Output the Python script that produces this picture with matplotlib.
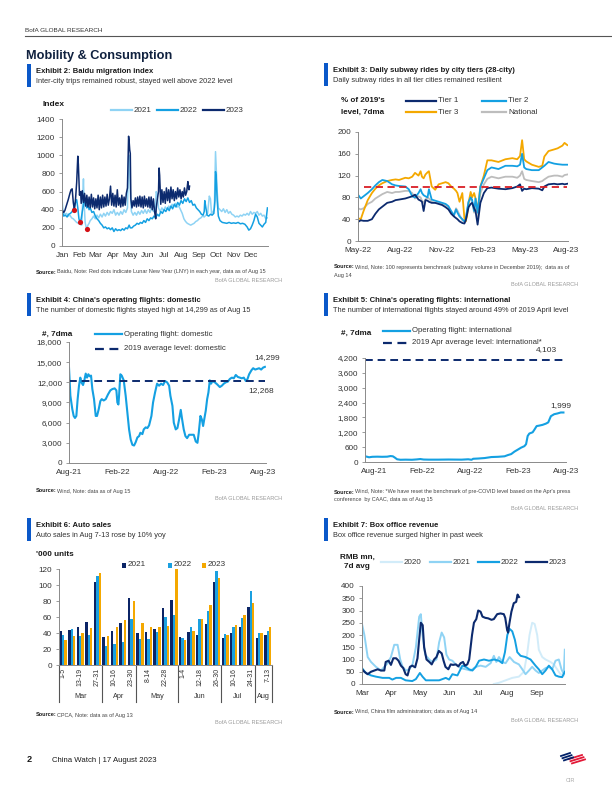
import matplotlib
matplotlib.use("Agg")
import matplotlib.pyplot as plt
from matplotlib.lines import Line2D
from matplotlib.patches import Rectangle
import matplotlib.transforms as mtrans

plt.rcParams['font.family'] = ['Liberation Sans', 'DejaVu Sans']
NARROW = ['Liberation Sans', 'DejaVu Sans']

NAVY = '#0c2a6e'
MID = '#14a0e2'
LIGHT = '#8fd3f4'
PALE = '#d2ecf9'
ORANGE = '#f4a800'
GREY = '#bdbdbd'
RED = '#d91f26'
TXT = '#333333'

# ---------------- Exhibit 2: Baidu migration index, (day of year, index) ----------------
mig_2023 = [(0, 400), (3, 370), (5, 390), (8, 450), (11, 510), (14, 580), (16, 620), (18, 630), (20, 480),
            (22, 400), (24, 520), (26, 700), (28, 990), (29, 900), (31, 560), (33, 600), (34, 470), (36, 610),
            (38, 480), (40, 580), (42, 440), (44, 560), (46, 430), (48, 540), (50, 420), (52, 570), (54, 430),
            (56, 530), (58, 410), (60, 520), (62, 420), (64, 560), (66, 400), (68, 540), (70, 420), (72, 560),
            (74, 430), (76, 540), (78, 440), (80, 570), (82, 450), (84, 520), (86, 660), (88, 450), (90, 580),
            (92, 440), (94, 560), (96, 430), (98, 620), (100, 450), (102, 530), (104, 430), (106, 560),
            (108, 440), (110, 540), (112, 450), (114, 580), (116, 640), (118, 1210), (119, 1150), (120, 1060),
            (121, 1020), (122, 520), (124, 420), (126, 500), (128, 440), (130, 530), (132, 430), (134, 540),
            (136, 440), (138, 550), (140, 430), (142, 540), (144, 420), (146, 550), (148, 440), (150, 520),
            (152, 430), (154, 540), (156, 420), (158, 540), (160, 400), (162, 520), (164, 380), (166, 300),
            (167, 420), (169, 520), (171, 600), (172, 860), (173, 780), (175, 460), (177, 620), (179, 480),
            (181, 600), (183, 470), (185, 640), (187, 500), (189, 620), (191, 480), (193, 650), (195, 520),
            (197, 620), (199, 500), (201, 600), (203, 520), (205, 640), (207, 540), (209, 620), (211, 520),
            (213, 600), (215, 540), (217, 640), (219, 560), (221, 600), (223, 710), (224, 650), (225, 620),
            (226, 660)]
mig_2022 = [(0, 390), (3, 330), (6, 340), (9, 320), (12, 350), (15, 360), (18, 380), (21, 420), (24, 480),
            (26, 510), (28, 420), (30, 300), (32, 260), (34, 300), (36, 380), (38, 450), (40, 500), (42, 470),
            (44, 420), (46, 460), (48, 400), (50, 420), (53, 370), (56, 380), (59, 330), (62, 300), (65, 280),
            (68, 250), (71, 230), (74, 200), (77, 210), (80, 190), (83, 200), (86, 180), (89, 200), (92, 160),
            (95, 190), (98, 170), (101, 180), (104, 170), (107, 190), (110, 175), (113, 200), (116, 190),
            (119, 230), (121, 200), (124, 200), (127, 220), (130, 230), (133, 250), (136, 240), (139, 260),
            (142, 250), (145, 280), (148, 260), (151, 300), (154, 280), (157, 310), (160, 300), (163, 330),
            (166, 310), (169, 350), (172, 330), (175, 380), (178, 360), (181, 400), (184, 380), (187, 420),
            (190, 390), (193, 440), (196, 410), (199, 460), (202, 430), (205, 480), (208, 450), (211, 500),
            (214, 470), (217, 520), (220, 490), (223, 530), (226, 480), (229, 500), (232, 450), (235, 460),
            (238, 420), (241, 400), (244, 380), (247, 350), (250, 340), (252, 380), (253, 500), (255, 420),
            (257, 340), (260, 330), (263, 350), (266, 340), (269, 360), (271, 500), (272, 820), (273, 780),
            (275, 500), (277, 330), (280, 280), (284, 260), (288, 255), (292, 250), (296, 260), (300, 250),
            (304, 255), (308, 250), (312, 260), (316, 245), (320, 250), (324, 240), (328, 210), (331, 175),
            (334, 190), (337, 230), (340, 280), (343, 350), (346, 320), (349, 250), (352, 230), (355, 210),
            (358, 240), (361, 260), (364, 420)]
mig_2021 = [(0, 520), (2, 380), (5, 350), (8, 360), (11, 330), (14, 340), (17, 310), (20, 300), (23, 280),
            (26, 260), (29, 250), (32, 240), (35, 230), (38, 740), (39, 500), (41, 260), (43, 200), (44, 190),
            (46, 230), (48, 250), (50, 280), (53, 300), (56, 330), (59, 300), (62, 340), (65, 310), (68, 350),
            (71, 320), (74, 360), (77, 330), (80, 370), (83, 340), (86, 380), (89, 360), (92, 400), (95, 340),
            (98, 370), (101, 340), (104, 380), (107, 350), (110, 400), (113, 370), (116, 420), (118, 990),
            (119, 1000), (121, 600), (123, 380), (126, 340), (129, 370), (132, 340), (135, 380), (138, 350),
            (141, 390), (144, 360), (147, 400), (150, 360), (153, 400), (156, 370), (159, 420), (162, 380),
            (165, 400), (167, 600), (169, 560), (171, 420), (174, 380), (177, 420), (180, 390), (183, 430),
            (186, 400), (189, 440), (192, 420), (195, 460), (198, 430), (201, 470), (204, 430), (207, 440),
            (210, 400), (213, 360), (216, 300), (219, 270), (222, 250), (225, 240), (228, 230), (231, 240),
            (234, 250), (237, 270), (240, 280), (243, 300), (246, 310), (249, 330), (252, 320), (255, 340),
            (258, 360), (261, 550), (263, 520), (265, 360), (268, 380), (270, 420), (272, 1040), (273, 900),
            (275, 600), (277, 420), (280, 400), (283, 380), (286, 410), (289, 370), (292, 400), (295, 360),
            (298, 380), (301, 350), (304, 340), (307, 320), (310, 330), (313, 320), (316, 340), (319, 330),
            (322, 350), (325, 340), (328, 360), (331, 340), (334, 380), (337, 350), (340, 370), (343, 360),
            (346, 380), (349, 340), (352, 360), (355, 330), (358, 340), (361, 300), (364, 310)]
lny_day = [22, 32, 44]
lny_val = [400, 262, 182]
month_days = [0, 31, 59, 90, 120, 151, 181, 212, 243, 273, 304, 334]
month_names = ['Jan', 'Feb', 'Mar', 'Apr', 'May', 'Jun', 'Jul', 'Aug', 'Sep', 'Oct', 'Nov', 'Dec']

# ---------------- Exhibit 3: subway rides (months since May-22) ----------------
sub_x = [0.0, 0.2, 0.4, 0.7, 1.0, 1.25, 1.5, 1.75, 2.1, 2.45, 2.7, 2.95, 3.4, 3.65, 3.9, 4.1, 4.35,
         4.5, 4.6, 4.72, 4.85, 5.0, 5.1, 5.3, 5.55, 5.8, 6.05, 6.3, 6.5, 6.7, 6.9, 7.05, 7.15, 7.3,
         7.5, 7.65, 7.75, 7.85, 7.95, 8.1, 8.2, 8.35, 8.45, 8.6, 8.8, 9.05, 9.3, 9.6, 10.1, 10.6, 11.1,
         11.45, 11.65, 11.8, 11.95, 12.1, 12.5, 13.0, 13.25, 13.4, 13.7, 14.1, 14.35, 14.7, 14.85, 15.05]
tier1 = [35, 38, 37, 37, 40, 50, 58, 63, 70, 72, 75, 76, 78, 80, 82, 85, 76, 74, 72, 55, 75, 74, 72,
         70, 70, 68, 66, 62, 58, 50, 45, 42, 40, 36, 33, 32, 38, 50, 62, 68, 70, 60, 55, 30, 70, 88,
         97, 98, 96, 95, 97, 100, 104, 92, 96, 95, 97, 96, 93, 100, 104, 105, 104, 105, 104, 105]
tier2 = [85, 78, 82, 88, 95, 102, 108, 112, 110, 104, 102, 101, 100, 95, 82, 80, 88, 95, 88, 84, 82,
         80, 95, 76, 74, 72, 70, 68, 64, 55, 47, 58, 52, 45, 40, 36, 40, 58, 72, 80, 76, 55, 78, 52,
         100, 115, 130, 135, 132, 138, 138, 137, 140, 160, 135, 132, 130, 130, 135, 138, 145, 142, 141,
         140, 140, 140]
tier3 = [42, 40, 55, 75, 88, 96, 102, 106, 110, 112, 113, 112, 116, 115, 118, 125, 120, 128, 118, 115,
         122, 126, 128, 100, 94, 104, 106, 108, 106, 100, 96, 92, 88, 72, 88, 42, 36, 48, 70, 90, 80,
         88, 78, 55, 100, 120, 148, 148, 145, 150, 152, 150, 156, 185, 150, 146, 140, 136, 138, 155,
         165, 168, 170, 175, 180, 176]
national = [60, 58, 60, 68, 72, 78, 82, 86, 90, 88, 90, 90, 92, 92, 88, 78, 82, 80, 74, 70, 76, 80, 78,
            72, 70, 70, 68, 66, 62, 52, 48, 60, 56, 48, 38, 35, 38, 56, 70, 78, 74, 52, 68, 45, 88, 104,
            114, 118, 115, 118, 118, 116, 120, 128, 114, 112, 110, 108, 110, 113, 118, 120, 120, 118,
            121, 122]
sub_bench = 100
sub_ticks = [0, 3, 6, 9, 12, 15]
sub_labels = ['May-22', 'Aug-22', 'Nov-22', 'Feb-23', 'May-23', 'Aug-23']

# ---------------- Exhibit 4: domestic flights (months since Aug-21) ----------------
dom_x = [0.00, 0.17, 0.41, 0.58, 0.74, 0.91, 1.07, 1.24, 1.40, 1.53, 1.74, 1.90, 2.07, 2.23, 2.40, 2.56,
         2.73, 2.89, 3.10, 3.31, 3.47, 3.68, 3.88, 4.05, 4.30, 4.55, 4.83, 5.12, 5.37, 5.66, 5.87, 5.99,
         6.12, 6.20, 6.36, 6.53, 6.78, 7.02, 7.23, 7.44, 7.64, 7.85, 8.06, 8.26, 8.47, 8.68, 8.84, 9.09,
         9.26, 9.50, 9.71, 9.92, 10.21, 10.41, 10.66, 10.91, 11.16, 11.40, 11.65, 11.90, 12.15, 12.40,
         12.56, 12.81, 12.98, 13.22, 13.43, 13.64, 13.84, 14.01, 14.21, 14.42, 14.63, 14.88, 15.17, 15.45,
         15.70, 15.91, 16.07, 16.28, 16.45, 16.61, 16.78, 16.94, 17.11, 17.27, 17.44, 17.60, 17.77, 18.06,
         18.35, 18.68, 18.93, 19.17, 19.42, 19.67, 19.92, 20.17, 20.41, 20.66, 20.91, 21.16, 21.40, 21.65,
         21.90, 22.11, 22.31, 22.60, 22.81, 23.06, 23.31, 23.55, 23.80, 24.05, 24.26]
dom = [14200, 10000, 8000, 7000, 6700, 7000, 9500, 11500, 12700, 12000, 11600, 12300, 13300, 12700,
       13200, 12900, 13000, 11000, 9500, 7000, 7000, 8000, 9200, 9500, 9300, 9500, 10200, 10800, 11000,
       11100, 10800, 9000, 8700, 10000, 13200, 13000, 12300, 10000, 7500, 5000, 3500, 2700, 2600, 3100,
       3800, 4000, 4500, 4300, 5000, 5300, 5200, 5600, 7000, 9000, 10500, 11800, 11500, 11800, 11600,
       12200, 12000, 11500, 10000, 8500, 6000, 5000, 5200, 6500, 7900, 6500, 5000, 4000, 3700, 4200,
       4200, 4200, 3200, 3000, 4500, 7000, 6500, 5500, 6700, 7800, 9500, 10500, 12300, 11800, 12200,
       12000, 11700, 11300, 11500, 11800, 12000, 12100, 12500, 12700, 12600, 13100, 12800, 12700, 12600,
       12700, 12200, 12500, 13200, 13800, 14100, 13900, 14000, 14100, 13900, 14200, 14299]
dom_bench = 12268

# ---------------- Exhibit 5: international flights ----------------
intl_x = [-1.12, -0.83, -0.62, -0.21, 0.41, 1.03, 1.65, 2.07, 2.36, 2.60, 2.89, 3.31, 3.93, 4.75, 5.37,
          5.79, 6.20, 6.82, 8.06, 9.30, 10.95, 11.78, 12.19, 12.40, 13.02, 13.84, 14.67, 15.50, 16.32,
          16.74, 17.15, 17.56, 17.98, 18.39, 18.80, 19.01, 19.21, 19.42, 19.83, 20.04, 20.33, 20.66,
          21.07, 21.49, 21.78, 22.11, 22.52, 22.93, 23.35, 23.68]
intl = [230, 210, 190, 210, 215, 210, 215, 240, 230, 180, 110, 90, 95, 90, 105, 120, 100, 95, 95, 100,
        95, 110, 90, 130, 140, 160, 200, 210, 230, 280, 320, 420, 500, 580, 640, 720, 1050, 1150, 1200,
        1300, 1450, 1470, 1500, 1550, 1600, 1850, 1930, 1960, 2000, 1999]
intl_bench = 4103
fl_ticks = [0, 6, 12, 18, 24]
fl_labels = ['Aug-21', 'Feb-22', 'Aug-22', 'Feb-23', 'Aug-23']

# ---------------- Exhibit 6: auto sales ----------------
auto_weeks = ['1-5', '6-12', '13-19', '20-26', '27-31', '1-9', '10-16', '17-22', '23-30', '1-7', '8-14',
              '15-21', '22-28', '29-31', '1-4', '5-11', '12-18', '19-25', '26-30', '1-9', '10-16', '17-23',
              '24-31', '1-6', '7-13']
auto_months = ['Mar', 'Apr', 'May', 'Jun', 'Jul', 'Aug']
auto_month_len = [5, 4, 5, 5, 4, 2]
auto_2021 = [42, 44, 48, 54, 104, 35, 42, 53, 84, 40, 41, 45, 71, 81, 35, 41, 38, 51, 104, 34, 40, 47, 73, 34, 37]
auto_2022 = [37, 45, 36, 38, 111, 24, 26, 29, 58, 32, 33, 41, 60, 62, 34, 48, 58, 68, 117, 39, 47, 59, 92, 40, 43]
auto_2023 = [31, 36, 40, 46, 115, 36, 47, 56, 80, 53, 47, 47, 49, 120, 31, 43, 57, 75, 109, 37, 50, 62, 77, 40, 48]

# ---------------- Exhibit 7: box office, (day of year, RMB mn) ----------------
bo_2023 = [(59, 60), (61.5, 50), (65, 40), (68.5, 50), (72, 55), (75.5, 60), (79, 55), (82.5, 55), (84, 90),
           (87, 95), (89.5, 78), (92, 105), (95, 105), (97.5, 95), (100, 75), (102.5, 65), (105, 40),
           (107, 35), (109.5, 70), (112, 75), (115, 68), (117.5, 105), (119, 170), (121, 250), (123, 240),
           (124.5, 150), (127, 100), (130, 90), (132.5, 80), (135, 100), (137.5, 110), (140, 135),
           (143, 125), (145, 95), (147, 70), (150, 60), (152.5, 80), (155, 78), (158, 80), (160.5, 72),
           (163, 85), (165.5, 90), (167.5, 75), (170, 80), (172, 100), (173.5, 150), (175, 200), (177, 250),
           (179.5, 265), (181.5, 300), (184, 295), (186, 275), (189, 270), (192, 268), (195.5, 262),
           (198, 265), (201.5, 285), (205, 288), (208.5, 285), (210, 270), (212, 220), (213, 210),
           (214.5, 250), (216.5, 295), (219, 330), (221.5, 335), (223, 365), (224.5, 355)]
bo_2022 = [(59, 65), (63, 45), (68.5, 35), (73.7, 30), (80.7, 25), (87.7, 25), (91, 18), (95, 25), (100, 25),
           (105, 15), (112, 12), (115.8, 20), (120, 45), (122.8, 30), (126.3, 15), (133.3, 15), (140.3, 15),
           (147.3, 25), (150.8, 18), (154.3, 40), (159.6, 35), (164.8, 75), (168.4, 70), (171.9, 60),
           (175.4, 55), (178.9, 70), (182.4, 95), (187.6, 100), (192.9, 95), (198.1, 100), (203.4, 95),
           (206.9, 85), (209.7, 130), (212.2, 200), (214.6, 225), (217.4, 215), (220.2, 180), (222.7, 130),
           (226.2, 115), (231.4, 110), (236.7, 100), (241.9, 75), (245.4, 60), (249, 40), (252.5, 55),
           (256, 75), (259.5, 60), (263, 35), (266.5, 30), (270, 28), (272.8, 50)]
bo_2021 = [(59, 245), (61.5, 200), (65, 110), (68.5, 90), (73.7, 70), (79, 55), (82.5, 70), (86, 85),
           (89.5, 110), (93, 160), (96.5, 160), (99.3, 100), (101.8, 70), (105.3, 55), (108.8, 60),
           (112.3, 80), (115.8, 150), (119.3, 275), (121, 285), (122.8, 200), (125.6, 120), (129.8, 100),
           (133.3, 90), (137.5, 100), (140.3, 170), (143, 210), (145.6, 190), (148, 120), (150.8, 100),
           (154.3, 95), (157.8, 80), (163, 65), (168.4, 60), (173.6, 55), (178.9, 70), (184, 75),
           (189.4, 70), (194.6, 85), (198, 115), (200.6, 90), (203.4, 110), (206.9, 90), (210.4, 85),
           (214.6, 110), (219.2, 90), (224.4, 80), (228, 60), (231.4, 40), (235, 55), (238.4, 70), (242, 55),
           (245.4, 45), (249, 55), (252.5, 65), (256, 70), (259.5, 60), (263, 95), (266.5, 100), (269.3, 60),
           (271.7, 40), (272.8, 140)]
bo_2020 = [(198, 0), (203.4, 5), (210.4, 15), (217.4, 25), (224.4, 30), (229.7, 50), (233, 120), (235.6, 200),
           (238.4, 250), (241, 245), (243.7, 200), (245.4, 140), (249, 110), (252.5, 100), (257.7, 90),
           (261.2, 80), (264.7, 60), (268.2, 40), (271.7, 35)]
bo_month_days = [59, 90, 120, 151, 181, 212, 243]
bo_month_names = ['Mar', 'Apr', 'May', 'Jun', 'Jul', 'Aug', 'Sep']


def xy(pairs):
    return [p[0] for p in pairs], [p[1] for p in pairs]


# ---------------- page helpers ----------------
W, H = 612, 792
fig = plt.figure(figsize=(W / 100, H / 100), dpi=100)


def add_ax(x0, y0, x1, y1):
    return fig.add_axes([x0 / W, 1 - y1 / H, (x1 - x0) / W, (y1 - y0) / H])


def ftext(x, y, s, size=6, bold=False, color=TXT, ha='left', family=NARROW, **kw):
    fig.text(x / W, 1 - y / H, s, fontsize=size, fontweight='bold' if bold else 'normal',
             color=color, ha=ha, va='center', family=family, **kw)


def fline(x0, x1, y0, y1=None, **kw):
    y1 = y0 if y1 is None else y1
    fig.add_artist(Line2D([x0 / W, x1 / W], [1 - y0 / H, 1 - y1 / H], transform=fig.transFigure, **kw))


def exhibit(x, ytop, title, sub):
    fig.add_artist(Rectangle((x / W, 1 - (ytop + 23) / H), 3.5 / W, 23 / H,
                             transform=fig.transFigure, color='#0a58c9', lw=0))
    ftext(x + 9, ytop + 7.5, title, size=5.5, bold=True, color='#1a1a1a')
    ftext(x + 9, ytop + 17.5, sub, size=5.3, color='#333333')


def source(x, y, s, lines2=None):
    ftext(x, y, 'Source:', size=4.0, bold=True, color='#1a1a1a')
    ftext(x + 21, y, s, size=4.0, color='#444444')
    if lines2:
        ftext(x, y + 8, lines2, size=4.0, color='#444444')


def bofa(xr, y):
    ftext(xr, y, 'BofA GLOBAL RESEARCH', size=4.0, color='#9a9a9a', ha='right')


def legend_line(x0, x1, y, label, color, ls='-', lw=1.6, size=5.8):
    fline(x0, x1, y, color=color, lw=lw, ls=ls)
    ftext(x1 + 2, y, label, size=size, color=TXT)


def style(ax):
    for s in ['top', 'right']:
        ax.spines[s].set_visible(False)
    for s in ['left', 'bottom']:
        ax.spines[s].set_color('#8a8a8a')
        ax.spines[s].set_linewidth(0.7)
    ax.tick_params(axis='y', length=2.5, width=0.6, color='#8a8a8a', labelsize=5.9, labelcolor=TXT, pad=2.5)
    ax.tick_params(axis='x', length=0, labelsize=5.9, labelcolor=TXT, pad=4)


def comma(ax):
    ax.set_yticklabels([f'{int(v):,}' for v in ax.get_yticks()])


# ---------------- header ----------------
ftext(25, 30, 'BofA GLOBAL RESEARCH', size=4.6, color='#333333')
fline(25, 612, 36, color='#555555', lw=0.8)
ftext(26, 56, 'Mobility & Consumption', size=9.2, bold=True, color='#10213f')

# ---------------- Exhibit 2 ----------------
exhibit(27, 64, 'Exhibit 2: Baidu migration index',
        'Inter-city trips remained robust, stayed well above 2022 level')
ax1 = add_ax(62, 119, 268, 246)
ax1.plot(*xy(mig_2021), color=LIGHT, lw=1.1)
ax1.plot(*xy(mig_2022), color=MID, lw=1.1)
ax1.plot(*xy(mig_2023), color=NAVY, lw=1.1)
ax1.scatter(lny_day, lny_val, color='#d40f14', s=14, zorder=5, lw=0)
ax1.set_xlim(0, 365)
ax1.set_ylim(0, 1400)
ax1.set_yticks(range(0, 1401, 200))
ax1.set_xticks(month_days)
ax1.set_xticklabels(month_names)
style(ax1)
ftext(42, 104, 'Index', size=6.0, bold=True, color='#1a1a1a')
legend_line(111, 132, 110, '2021', LIGHT)
legend_line(157, 178, 110, '2022', MID)
legend_line(203, 224, 110, '2023', NAVY)
source(36, 272, 'Baidu, Note: Red dots indicate Lunar New Year (LNY) in each year, data as of Aug 15')
bofa(282, 281)

# ---------------- Exhibit 3 ----------------
exhibit(324, 63, 'Exhibit 3: Daily subway rides by city tiers (28-city)',
        'Daily subway rides in all tier cities remained resilient')
ax2 = add_ax(358, 132, 568, 241)
ax2.plot(sub_x, national, color=GREY, lw=1.3)
ax2.plot(sub_x, tier3, color=ORANGE, lw=1.3)
ax2.plot(sub_x, tier2, color=MID, lw=1.3)
ax2.plot(sub_x, tier1, color=NAVY, lw=1.3)
ax2.hlines(sub_bench, 0.4, sub_x[-1], colors=RED, linestyles=(0, (4, 2.5)), lw=1.3, zorder=5)
ax2.set_xlim(0, 15.1)
ax2.set_ylim(0, 200)
ax2.set_yticks(range(0, 201, 40))
ax2.set_xticks(sub_ticks)
ax2.set_xticklabels(sub_labels)
style(ax2)
ftext(341, 101, "% of 2019's", size=5.8, bold=True, color='#1a1a1a')
ftext(341, 112, 'level, 7dma', size=5.8, bold=True, color='#1a1a1a')
legend_line(406, 436, 101, 'Tier 1', NAVY)
legend_line(482, 506, 101, 'Tier 2', MID)
legend_line(406, 436, 112, 'Tier 3', ORANGE)
legend_line(482, 506, 112, 'National', GREY)
source(334, 267, 'Wind, Note: 100 represents benchmark (subway volume in December 2019);  data as of',
       'Aug 14')
bofa(578, 285)

# ---------------- Exhibit 4 ----------------
exhibit(27, 293, "Exhibit 4: China's operating flights: domestic",
        'The number of domestic flights stayed high at 14,299 as of Aug 15')
ax3 = add_ax(69, 342, 266, 463)
ax3.plot(dom_x, dom, color=MID, lw=1.5)
ax3.hlines(dom_bench, dom_x[0], dom_x[-1], colors=NAVY, linestyles=(0, (4, 2.5)), lw=1.4)
ax3.set_xlim(0, 24.4)
ax3.set_ylim(0, 18000)
ax3.set_yticks(range(0, 18001, 3000))
comma(ax3)
ax3.set_xticks(fl_ticks)
ax3.set_xticklabels(fl_labels)
style(ax3)
ax3.text(24.5, 15620, f'{dom[-1]:,}', fontsize=6.0, color=TXT, ha='center', va='center', clip_on=False)
ax3.text(23.76, 10710, f'{dom_bench:,}', fontsize=6.0, color=TXT, ha='center', va='center', clip_on=False)
ftext(42, 334, '#, 7dma', size=5.9, bold=True, color='#1a1a1a')
legend_line(95, 122, 334, 'Operating flight: domestic', MID, size=5.6)
legend_line(95, 122, 349, '2019 average level: domestic', NAVY, ls=(0, (4, 2.5)), size=5.6)
source(36, 491, 'Wind, Note: data as of Aug 15')
bofa(282, 499)

# ---------------- Exhibit 5 ----------------
exhibit(324, 293, "Exhibit 5: China's operating flights: international",
        'The number of international flights stayed around 49% of 2019 April level')
ax4 = add_ax(365, 358, 566, 462)
ax4.plot(intl_x, intl, color=MID, lw=1.5)
ax4.hlines(intl_bench, intl_x[0], intl_x[-1], colors=NAVY, linestyles=(0, (4, 2.5)), lw=1.4)
ax4.set_xlim(-1.12, 23.8)
ax4.set_ylim(0, 4200)
ax4.set_yticks(range(0, 4201, 600))
comma(ax4)
ax4.set_xticks(fl_ticks)
ax4.set_xticklabels(fl_labels)
style(ax4)
ax4.text(21.6, 4560, f'{intl_bench:,}', fontsize=6.0, color=TXT, ha='center', va='center', clip_on=False)
ax4.text(23.3, 2260, f'{intl[-1]:,}', fontsize=6.0, color=TXT, ha='center', va='center', clip_on=False)
ftext(341, 333, '#, 7dma', size=5.9, bold=True, color='#1a1a1a')
legend_line(383, 410, 331, 'Operating flight: international', MID, size=5.6)
legend_line(383, 410, 343, '2019 Apr average level: international*', NAVY, ls=(0, (4, 2.5)), size=5.6)
source(334, 492, "Wind, Note: *We have reset the benchmark of pre-COVID level based on the Apr's press",
       'conference  by CAAC, data as of Aug 15')
bofa(578, 509)

# ---------------- Exhibit 6 ----------------
exhibit(27, 518, 'Exhibit 6: Auto sales', 'Auto sales in Aug 7-13 rose by 10% yoy')
ax5 = add_ax(59, 569, 272, 665)
idx = list(range(len(auto_weeks)))
bw = 0.28
ax5.bar([i - bw for i in idx], auto_2021, width=bw, color='#0b2466', lw=0)
ax5.bar(idx, auto_2022, width=bw, color='#1aa0e0', lw=0)
ax5.bar([i + bw for i in idx], auto_2023, width=bw, color=ORANGE, lw=0)
ax5.set_xlim(-0.5, len(idx) - 0.5)
ax5.set_ylim(0, 120)
ax5.set_yticks(range(0, 121, 20))
ax5.set_xticks(idx[::2])
ax5.set_xticklabels(auto_weeks[::2], rotation=90)
style(ax5)
ax5.tick_params(axis='x', pad=2, labelsize=5.0)
bt = mtrans.blended_transform_factory(ax5.transData, ax5.transAxes)
start = 0
bounds = [-0.5]
for name, n in zip(auto_months, auto_month_len):
    ax5.text(start + (n - 1) / 2, -0.33, name, transform=bt, fontsize=5.2, color=TXT,
             ha='center', va='center')
    start += n
    bounds.append(start - 0.5)
for b in bounds:
    ax5.plot([b, b], [0, -0.385], transform=bt, color='#555555', lw=0.8, clip_on=False)
ftext(36, 555, "'000 units", size=5.9, bold=True, color='#1a1a1a')
for xs, lab, col in [(122, '2021', '#0b2466'), (168, '2022', '#1aa0e0'), (202, '2023', ORANGE)]:
    fig.add_artist(Rectangle((xs / W, 1 - 567.5 / H), 4.2 / W, 4.5 / H, transform=fig.transFigure,
                             color=col, lw=0))
    ftext(xs + 6, 565, lab, size=5.9, color=TXT)
source(36, 715, 'CPCA, Note: data as of Aug 13')
bofa(282, 723)

# ---------------- Exhibit 7 ----------------
exhibit(324, 518, 'Exhibit 7: Box office revenue', 'Box office revenue surged higher in past week')
ax6 = add_ax(362, 586, 565, 684)
ax6.plot(*xy(bo_2020), color=PALE, lw=1.4)
ax6.plot(*xy(bo_2021), color=LIGHT, lw=1.4)
ax6.plot(*xy(bo_2022), color=MID, lw=1.4)
ax6.plot(*xy(bo_2023), color=NAVY, lw=1.5)
ax6.set_xlim(59, 273)
ax6.set_ylim(0, 400)
ax6.set_yticks(range(0, 401, 50))
ax6.set_xticks(bo_month_days)
ax6.set_xticklabels(bo_month_names)
style(ax6)
ftext(357, 557, 'RMB mn,', size=5.9, bold=True, color='#1a1a1a', ha='center')
ftext(357, 567, '7d avg', size=5.9, bold=True, color='#1a1a1a', ha='center')
legend_line(381, 402, 562, '2020', PALE)
legend_line(430, 451, 562, '2021', LIGHT)
legend_line(478, 499, 562, '2022', MID)
legend_line(526, 547, 562, '2023', NAVY)
source(334, 712, 'Wind, China film administration; data as of Aug 14')
bofa(578, 721)

# ---------------- footer ----------------
ftext(27, 760, '2', size=6.6, bold=True, color='#1a1a1a')
ftext(52, 760, 'China Watch | 17 August 2023', size=5.6, color='#1a1a1a')
for k in range(3):
    fline(561 + 1.5 * k, 570 + 1.5 * k, 756 + 2.2 * k, 753 + 2.2 * k, color='#012169', lw=1.3)
    fline(569 + 1.5 * k, 582 + 1.5 * k, 759 + 2.2 * k, 755 + 2.2 * k, color='#e31837', lw=1.3)
ftext(566, 780, 'CIR', size=4, color='#aaaaaa')

fig.savefig('out.png', dpi=100)
